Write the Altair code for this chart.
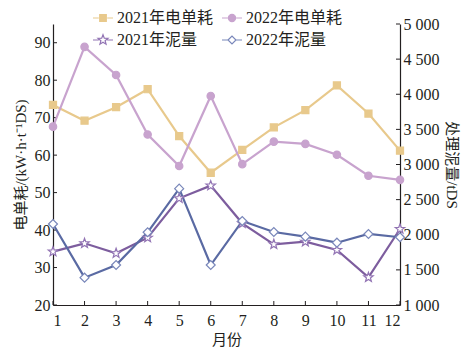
import math
import altair as alt
import pandas as pd

# ---------------- data ----------------
months = [1, 2, 3, 4, 5, 6, 7, 8, 9, 10, 11, 12]
elec_2021 = [73.4, 69.2, 72.8, 77.6, 65.1, 55.3, 61.4, 67.4, 72.0, 78.6, 71.1, 61.2]
elec_2022 = [67.6, 88.9, 81.4, 65.5, 57.1, 75.8, 57.6, 63.6, 63.0, 60.1, 54.5, 53.4]
sludge_2021 = [1759, 1878, 1736, 1958, 2519, 2699, 2163, 1864, 1901, 1783, 1394, 2082]
sludge_2022 = [2153, 1389, 1569, 2035, 2656, 1569, 2196, 2039, 1973, 1887, 2011, 1964]

series_names = ["2021年电单耗", "2022年电单耗", "2021年泥量", "2022年泥量"]
left_ticks = [20, 30, 40, 50, 60, 70, 80, 90]
right_ticks = [1000, 1500, 2000, 2500, 3000, 3500, 4000, 4500, 5000]

# ---------------- styles ----------------
W, H = 347, 281
line_colors = ["#E8C98C", "#C8A3CE", "#7D5D9E", "#5A6AA3"]
pt_fill = ["#E8C98C", "#C8A3CE", "#FFFFFF", "#FFFFFF"]
pt_stroke = ["#E8C98C", "#C8A3CE", "#9274B4", "#7987BA"]
FONT = "Liberation Serif, Noto Sans CJK SC"
TXT = "#231F20"


def star_path(R, r):
    pts = []
    for i in range(10):
        a = -math.pi / 2 + i * math.pi / 5
        rad = R if i % 2 == 0 else r
        pts.append((rad * math.cos(a), rad * math.sin(a)))
    return "M" + "L".join(f"{x:.3f},{y:.3f}" for x, y in pts) + "Z"


pt_shapes = ["square", "circle", star_path(1.15, 0.48), "diamond"]
pt_sizes = [50, 55, 75, 80]

seg = "M-1,0H-0.42M0.42,0H1"
leg_paths = [
    seg + "M-0.33,-0.33H0.33V0.33H-0.33Z",
    seg + "M-0.36,0A0.36,0.36 0 1,0 0.36,0A0.36,0.36 0 1,0 -0.36,0Z",
    seg + star_path(0.52, 0.22),
    seg + "M-0.4,0L0,-0.4L0.4,0L0,0.4Z",
]

legend = alt.Legend(
    title=None,
    orient="none",
    direction="horizontal",
    legendX=39,
    legendY=-17,
    columns=2,
    columnPadding=5,
    rowPadding=3,
    labelFont=FONT,
    labelFontSize=16,
    labelColor=TXT,
    labelOffset=3,
    symbolSize=400,
    symbolStrokeWidth=1.2,
    symbolOpacity=1,
)

# ---------------- table ----------------
rows = []
for name, vals in zip(series_names, [elec_2021, elec_2022, sludge_2021, sludge_2022]):
    for m, v in zip(months, vals):
        rows.append({"month": m, "value": v, "series": name})
df = pd.DataFrame(rows)

x_enc = alt.X(
    "month:Q",
    scale=alt.Scale(domain=[1, 12], nice=False, zero=False),
    axis=alt.Axis(values=months, format="d", title="月份", grid=False,
                  ticks=False, labelPadding=7, titlePadding=4),
)
left_y = alt.Y(
    "value:Q",
    scale=alt.Scale(domain=[20, 95], nice=False, zero=False),
    axis=alt.Axis(orient="left", values=left_ticks, title="电单耗/(kW·h·t⁻¹DS)",
                  grid=False, ticks=False, labelPadding=3, titlePadding=6),
)
right_y = alt.Y(
    "value:Q",
    scale=alt.Scale(domain=[1000, 5000], nice=False, zero=False),
    axis=alt.Axis(orient="right", values=right_ticks, title="处理泥量/tDS",
                  grid=False, ticks=False, labelPadding=3, titlePadding=4,
                  labelExpr="replace(format(datum.value, ','), ',', ' ')"),
)


def series_layers(i, y):
    d = df[df["series"] == series_names[i]]
    ln = alt.Chart(d).mark_line(strokeWidth=2.2, color=line_colors[i]).encode(x=x_enc, y=y)
    pt = alt.Chart(d).mark_point(
        shape=pt_shapes[i], size=pt_sizes[i], opacity=1, strokeWidth=1.2,
        fill=pt_fill[i], stroke=pt_stroke[i], filled=True,
    ).encode(x=x_enc, y=y)
    return ln, pt


# invisible layer that only carries the legend
legend_layer = alt.Chart(df[df["series"].isin(series_names[:2])]).mark_point(
    size=400, opacity=0
).encode(
    x=x_enc, y=left_y,
    shape=alt.Shape("series:N", scale=alt.Scale(domain=series_names, range=leg_paths), legend=legend),
    fill=alt.Fill("series:N", scale=alt.Scale(domain=series_names, range=pt_fill), legend=legend),
    stroke=alt.Stroke("series:N", scale=alt.Scale(domain=series_names, range=pt_stroke), legend=legend),
)

# inward tick marks at the axis tick values
tick_col = "#231F20"
xt = alt.Chart(pd.DataFrame({"month": months})).mark_rule(color=tick_col, strokeWidth=1).encode(
    x=x_enc, y=alt.value(H), y2=alt.value(H - 4))
lt = alt.Chart(pd.DataFrame({"value": left_ticks})).mark_rule(color=tick_col, strokeWidth=1).encode(
    y=left_y, x=alt.value(0), x2=alt.value(4))
rt = alt.Chart(pd.DataFrame({"value": right_ticks})).mark_rule(color=tick_col, strokeWidth=1).encode(
    y=right_y, x=alt.value(W), x2=alt.value(W - 4))

l0, p0 = series_layers(0, left_y)
l1, p1 = series_layers(1, left_y)
l2, p2 = series_layers(2, right_y)
l3, p3 = series_layers(3, right_y)

left = alt.layer(xt, lt, l0, l1, p0, p1, legend_layer)
right = alt.layer(rt, l2, l3, p2, p3)

chart = (
    alt.layer(left, right)
    .resolve_scale(y="independent")
    .properties(
        width=W, height=H,
        autosize=alt.AutoSizeParams(type="none"),
        padding={"left": 53, "top": 24, "right": 72, "bottom": 52},
        background="white",
    )
    .configure_view(stroke=None)
    .configure_axis(
        labelFont=FONT, labelFontSize=16, labelColor=TXT,
        titleFont=FONT, titleFontSize=15, titleFontWeight="normal", titleColor=TXT,
        domainColor="#231F20", domainWidth=1.2,
    )
)

chart.save("out.html", embed_options={"renderer": "svg", "actions": False})
